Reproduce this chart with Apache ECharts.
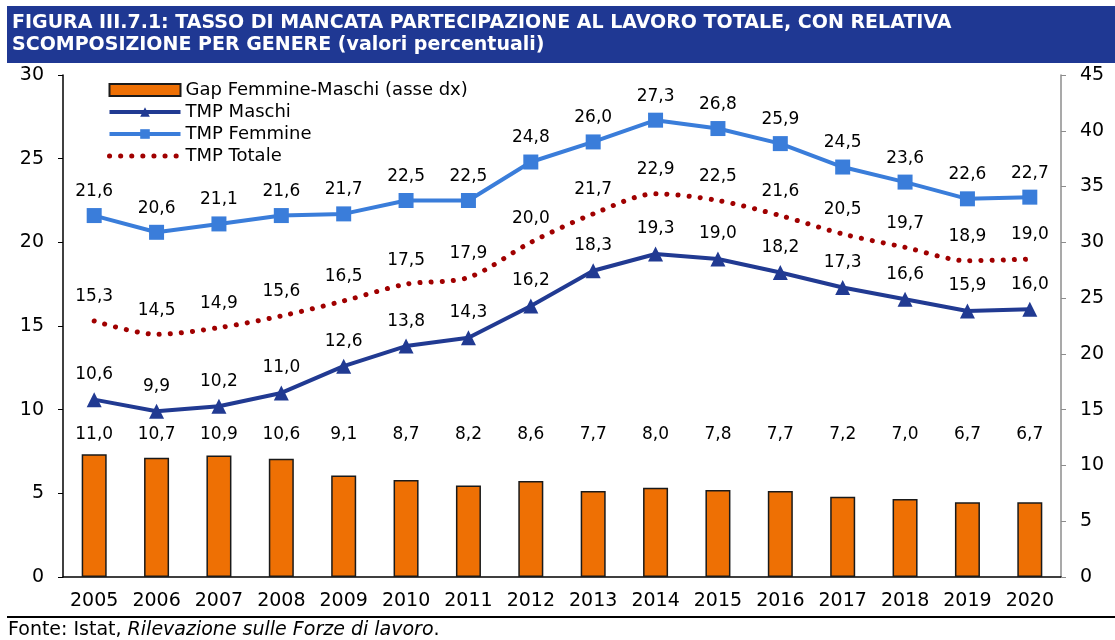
<!DOCTYPE html>
<html>
<head>
<meta charset="utf-8">
<script src="https://cdn.jsdelivr.net/npm/echarts@6/dist/echarts.min.js"></script>
<style>
  html, body { margin: 0; padding: 0; background: #fff; }
  #chart { width: 1115px; height: 640px; }
</style>
</head>
<body>
<div id="chart"></div>
<script>
// dati
const anni = ['2005', '2006', '2007', '2008', '2009', '2010', '2011', '2012', '2013', '2014', '2015', '2016', '2017', '2018', '2019', '2020']
const tmpMaschi = [10.6, 9.9, 10.2, 11.0, 12.6, 13.8, 14.3, 16.2, 18.3, 19.3, 19.0, 18.2, 17.3, 16.6, 15.9, 16.0]
const tmpFemmine = [21.6, 20.6, 21.1, 21.6, 21.7, 22.5, 22.5, 24.8, 26.0, 27.3, 26.8, 25.9, 24.5, 23.6, 22.6, 22.7]
const tmpTotale = [15.3, 14.5, 14.9, 15.6, 16.5, 17.5, 17.9, 20.0, 21.7, 22.9, 22.5, 21.6, 20.5, 19.7, 18.9, 19.0]
const gapFM = [11.0, 10.7, 10.9, 10.6, 9.1, 8.7, 8.2, 8.6, 7.7, 8.0, 7.8, 7.7, 7.2, 7.0, 6.7, 6.7]

const FONT = 'DejaVu Sans'
const fmt = p => p.value.toFixed(1).replace('.', ',')

const BLU = '#213A92'
const AZZURRO = '#3A7DDA'
const ROSSO = '#A00000'
const ARANCIO = '#EE7004'

// grid
const gridTop = 75
const gridBottom = 63
const gridH = 640 - gridTop - gridBottom
const pxRight = gridH / 45
// le etichette delle barre stanno tutte circa alla stessa altezza
const livelloEtichetteGap = 12.7

const chart = echarts.init(document.getElementById('chart'))

const option = {
  backgroundColor: '#fff',
  animation: false,
  textStyle: { fontFamily: FONT },
  graphic: [
    {
      type: 'rect',
      shape: { x: 7, y: 6, width: 1108, height: 57 },
      style: { fill: '#1F3893' }
    },
    {
      type: 'text', left: 12, top: 14,
      style: { text: 'FIGURA III.7.1: TASSO DI MANCATA PARTECIPAZIONE AL LAVORO TOTALE, CON RELATIVA', fill: '#fff', font: 'bold 19px "DejaVu Sans"' }
    },
    {
      type: 'text', left: 12, top: 36,
      style: { text: 'SCOMPOSIZIONE PER GENERE (valori percentuali)', fill: '#fff', font: 'bold 19px "DejaVu Sans"' }
    },
    {
      type: 'rect',
      shape: { x: 7, y: 616, width: 1108, height: 2 },
      style: { fill: '#000' }
    },
    {
      type: 'text', left: 8, top: 621,
      style: {
        text: '{n|Fonte: Istat, }{i|Rilevazione sulle Forze di lavoro}{n|.}',
        rich: {
          n: { fontFamily: FONT, fontSize: 19, fill: '#000' },
          i: { fontFamily: FONT, fontSize: 19, fontStyle: 'italic', fill: '#000' }
        }
      }
    }
  ],
  legend: {
    orient: 'vertical',
    left: 102,
    top: 76,
    itemWidth: 71,
    itemHeight: 12,
    itemGap: 4,
    textStyle: { fontFamily: FONT, fontSize: 18, color: '#000' },
    data: [
      { name: 'Gap Femmine-Maschi (asse dx)', icon: 'rect' },
      { name: 'TMP Maschi', lineStyle: { width: 4 } },
      { name: 'TMP Femmine', lineStyle: { width: 4 } },
      { name: 'TMP Totale', lineStyle: { width: 5 } }
    ]
  },
  grid: { left: 63, right: 54, top: gridTop, bottom: gridBottom },
  xAxis: {
    type: 'category',
    data: anni,
    axisLine: { lineStyle: { color: '#000', width: 1.5 } },
    axisTick: { alignWithLabel: false, length: 6, lineStyle: { color: '#000', width: 1.5 } },
    axisLabel: { interval: 0, fontFamily: FONT, fontSize: 19, color: '#000', margin: 15 }
  },
  yAxis: [
    {
      type: 'value', min: 0, max: 30, interval: 5,
      axisLine: { show: true, lineStyle: { color: '#000', width: 1.5 } },
      axisTick: { show: true, length: 5, lineStyle: { color: '#000' } },
      splitLine: { show: false },
      axisLabel: { fontFamily: FONT, fontSize: 19, color: '#000', margin: 19 }
    },
    {
      type: 'value', min: 0, max: 45, interval: 5, position: 'right',
      axisLine: { show: true, lineStyle: { color: '#8c8c8c', width: 1.5 } },
      axisTick: { show: true, length: 5, lineStyle: { color: '#8c8c8c' } },
      splitLine: { show: false },
      axisLabel: { fontFamily: FONT, fontSize: 19, color: '#000', margin: 19 }
    }
  ],
  series: [
    {
      name: 'Gap Femmine-Maschi (asse dx)',
      type: 'bar',
      yAxisIndex: 1,
      barWidth: 25,
      itemStyle: { color: ARANCIO, borderColor: '#1a1a1a', borderWidth: 1.5 },
      data: gapFM.map(v => ({
        value: v,
        label: {
          show: true, position: 'top',
          distance: (livelloEtichetteGap - v) * pxRight - 8,
          formatter: fmt, fontFamily: FONT, fontSize: 17, color: '#000'
        }
      }))
    },
    {
      name: 'TMP Maschi',
      type: 'line',
      data: tmpMaschi,
      symbol: 'triangle',
      symbolSize: 15,
      color: BLU,
      lineStyle: { width: 4, color: BLU },
      itemStyle: { color: BLU },
      label: { show: true, position: 'top', distance: 9, formatter: fmt, fontFamily: FONT, fontSize: 17, color: '#000' },
      z: 4
    },
    {
      name: 'TMP Femmine',
      type: 'line',
      data: tmpFemmine,
      symbol: 'rect',
      symbolSize: 15,
      color: AZZURRO,
      lineStyle: { width: 4, color: AZZURRO },
      itemStyle: { color: AZZURRO },
      label: { show: true, position: 'top', distance: 8, formatter: fmt, fontFamily: FONT, fontSize: 17, color: '#000' },
      z: 4
    },
    {
      name: 'TMP Totale',
      type: 'line',
      data: tmpTotale,
      smooth: 0.3,
      symbol: 'circle',
      symbolSize: 1,
      color: ROSSO,
      lineStyle: { width: 5, color: ROSSO, type: [0.1, 11], cap: 'round' },
      itemStyle: { color: 'rgba(0,0,0,0)' },
      label: { show: true, position: 'top', distance: 15, formatter: fmt, fontFamily: FONT, fontSize: 17, color: '#000' },
      z: 3
    }
  ]
}

chart.setOption(option)
</script>
</body>
</html>
